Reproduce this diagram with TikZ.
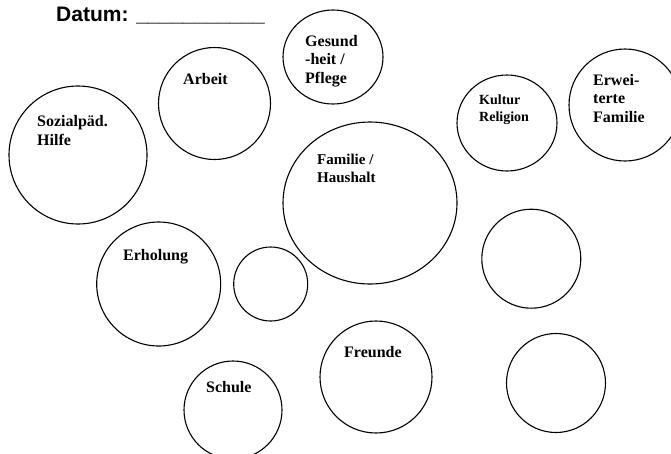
\documentclass[tikz,border=0pt]{standalone}
\usepackage{fontspec}
\setmainfont{Liberation Serif}
\newfontfamily\datumfont{Liberation Sans}
\usetikzlibrary{shapes.geometric}
\begin{document}
\begin{tikzpicture}[x=1pt,y=-1pt,
  ring/.style={draw=black, circle, line width=1.1pt, inner sep=0pt},
  blob/.style={draw=black, ellipse, line width=1.1pt, inner sep=0pt},
  % anchor sits on the baseline of the last line of a label
  tag/.style={anchor=base west, inner sep=0pt, align=left,
    font=\bfseries\fontsize{16}{18.5}\selectfont},
  smalltag/.style={tag, font=\bfseries\fontsize{14}{16.8}\selectfont},
  midtag/.style={tag, font=\bfseries\fontsize{15}{18}\selectfont},
]
\useasboundingbox (0,0) rectangle (671,453);
\clip (0,0) rectangle (671,453);

% header
\node[anchor=base west, inner sep=0pt, font=\datumfont\bfseries\fontsize{21}{24}\selectfont]
  (datum) at (56,21) {Datum: \_\_\_\_\_\_\_\_\_\_\_};

% circles of the network map
\node[ring, minimum size=138pt] (sozial)    at (78,155)    {};
\node[ring, minimum size=112pt] (arbeit)    at (214.5,103.5) {};
\node[blob, minimum width=100pt, minimum height=94pt] (gesund) at (333,57) {};
\node[blob, minimum width=100pt, minimum height=96pt] (kultur) at (507,123) {};
\node[ring, minimum size=112pt] (erweitert) at (625,105)   {};
\node[blob, minimum width=174pt, minimum height=162pt] (familie) at (370,203) {};
\node[ring, minimum size=124pt] (erholung)  at (158.7,284) {};
\node[ring, minimum size=74pt]  (klein)     at (270.7,284) {};
\node[ring, minimum size=99pt]  (leerA)     at (531.3,258.7) {};
\node[ring, minimum size=112pt] (freunde)   at (376,377)   {};
\node[ring, minimum size=99pt]  (leerB)     at (556,383)   {};
\node[ring, minimum size=98pt]  (schule)    at (233,410)   {};

% labels
\node[tag] (sozialT)    at (37,145)  {Sozialpäd.\\Hilfe};
\node[tag] (arbeitT)    at (183,84)  {Arbeit};
\node[tag] (gesundT)    at (305,83)  {Gesund\\-heit /\\Pflege};
\node[smalltag] (kulturT) at (479,121) {Kultur\\Religion};
\node[tag] (erweitertT) at (593,122) {Erwei-\\terte\\Familie};
\node[midtag] (familieT) at (317,182) {Familie /\\Haushalt};
\node[tag] (erholungT)  at (123,260) {Erholung};
\node[tag] (schuleT)    at (206,392) {Schule};
\node[tag] (freundeT)   at (344,357) {Freunde};
\end{tikzpicture}
\end{document}
